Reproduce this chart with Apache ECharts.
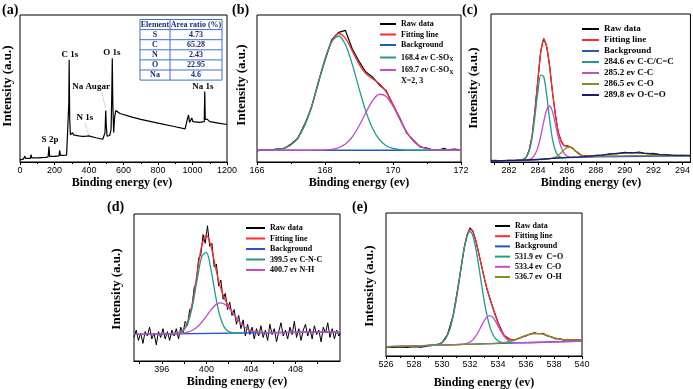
<!DOCTYPE html>
<html>
<head>
<meta charset="utf-8">
<title>XPS spectra</title>
<script src="https://cdn.jsdelivr.net/npm/echarts@6.0.0/dist/echarts.min.js"></script>
<style>
  html, body { margin: 0; padding: 0; background: #fff; }
  #chart { width: 693px; height: 389px; }
</style>
</head>
<body>
<div id="chart"></div>
<script>
// ---------- (a) survey ----------
var surveyEnergy = [0,20,28,32,40,60,64,68,100,150,163,168,172,200,226,230,234,270,280,283,285,288,292,300,305,310,340,350,355,380,398,402,405,440,480,488,493,497,500,505,512,520,528,532,535,538,543,548,555,565,580,650,700,800,900,957,965,972,977,983,990,996,1002,1040,1068,1071,1074,1080,1086,1100,1150,1200];
var surveyIntensity = [1.5,2,4,2.5,2.3,2.5,5,2.8,2.8,3.2,3.5,10.5,3.8,3.8,4.2,8,4.5,4.6,5,40,69.5,30,18.5,19,20,18.5,17.8,18.5,17.5,17.5,17.8,18.3,17.3,16.5,15.5,15.5,20,35,25,17.5,17,18,22,45,70.5,40,20,30,35,34,33,30.5,29,26.5,24,22.5,23.5,30,32,27,28.5,30,27.5,27,27.5,48,29,28,29,27.5,26.5,25.5];
var tableElements = ['S', 'C', 'N', 'O', 'Na'];
var tableRatios = [4.73, 65.28, 2.43, 22.95, 4.6];

// ---------- (b) S 2p ----------
var bRawEnergy = [166.0,166.2,166.4,166.6,166.8,167.0,167.2,167.4,167.6,167.8,168.0,168.2,168.4,168.6,168.8,169.0,169.2,169.4,169.6,169.8,170.0,170.2,170.4,170.6,170.8,171.0,171.2,171.4,171.5,171.6,171.8,172.0];
var bRaw = [7.6,8.5,8.1,8.9,9.2,12.3,16.0,25.6,36.8,54.2,69.2,83.3,88.2,89.5,77.0,68.5,61.2,57.8,52.4,48.5,38.6,29.9,19.8,14.9,10.2,9.4,8.0,8.4,9.4,8.3,8.7,8.2];
var bEnergy = [166.0,166.2,166.4,166.6,166.8,167.0,167.2,167.4,167.6,167.8,168.0,168.2,168.4,168.6,168.8,169.0,169.2,169.4,169.6,169.8,170.0,170.2,170.4,170.6,170.8,171.0,171.2,171.4,171.6,171.8,172.0];
var bFit = [8.0,8.0,8.2,8.5,9.5,11.7,16.4,24.8,37.4,53.4,69.9,82.4,87.4,84.1,75.6,66.6,60.1,56.6,53.3,47.7,39.2,29.3,20.5,14.3,10.7,9.0,8.3,8.1,8.0,8.0,8.0];
var bPeak1 = [8.01,8.04,8.15,8.5,9.45,11.7,16.4,24.8,37.4,53.4,69.7,81.8,85.7,79.9,66.6,50.1,34.6,22.8,15.2,11.1,9.2,8.4,8.12,8.03,8.0,8.0,8.0,8.0,8.0,8.0,8.0];
var bPeak2 = [8.0,8.0,8.0,8.0,8.0,8.0,8.0,8.0,8.01,8.04,8.17,8.57,9.7,12.2,17.0,24.5,33.5,41.8,46.1,44.6,38.0,28.9,20.4,14.3,10.7,9.0,8.31,8.08,8.02,8.0,8.0];
var bBgEnergy = [166, 172];
var bBg = [8, 8];

// ---------- (c) C 1s ----------
var cRawEnergy = [280.75,281.0,281.5,282.0,282.4,282.6,282.8,283.0,283.2,283.4,283.6,283.8,284.0,284.2,284.4,284.6,284.8,285.0,285.2,285.4,285.6,285.8,286.0,286.2,286.4,286.6,286.8,287.0,287.2,287.4,287.6,287.8,288.0,288.5,289.0,289.5,290.0,290.5,291.0,291.5,292.0,292.5,293.0,293.5,294.0,294.55];
var cRaw = [0.9,1.1,0.8,1.2,1.0,1.3,1.2,1.9,3.3,8.5,18.0,35.9,56.0,75.3,83.5,78.0,65.4,47.3,32.6,20.1,14.4,11.0,11.1,10.1,9.5,7.2,6.1,4.5,4.3,3.8,4.2,4.0,4.6,4.5,5.6,5.6,6.5,6.1,6.8,5.6,5.8,4.9,4.9,4.2,4.6,4.2];
var cFitEnergy = [282.4,282.6,282.8,283.0,283.2,283.4,283.6,283.8,284.0,284.2,284.4,284.6,284.8,285.0,285.2,285.4,285.6,285.8,286.0,286.2,286.4,286.6,286.8,287.0,287.2,287.4,287.6,287.8,288.0];
var cFit = [1.09,1.15,1.28,1.78,3.51,8.22,18.37,35.4,56.45,74.86,82.92,78.5,64.92,47.78,32.11,20.51,13.86,11.27,10.8,10.38,9.21,7.47,5.8,4.66,4.09,3.94,4.0,4.16,4.33];
var cBgEnergy = [280.75,283,284,285,286,288,294.55];
var cBg = [0.8,1.2,1.6,2.4,3.0,3.5,4.2];
var cPeak1Energy = [282.4,282.6,282.8,283.0,283.2,283.4,283.6,283.8,284.0,284.2,284.4,284.6,284.8,285.0,285.2,285.4,285.6,285.8,286.0];
var cPeak1 = [1.09,1.15,1.28,1.76,3.41,7.82,17.04,31.72,48.0,58.76,57.62,45.48,29.24,15.7,7.82,4.3,3.18,2.96,3.01];
var cPeak2Energy = [282.6,282.8,283.0,283.2,283.4,283.6,283.8,284.0,284.2,284.4,284.6,284.8,285.0,285.2,285.4,285.6,285.8,286.0,286.2,286.4,286.6];
var cPeak2 = [1.13,1.16,1.22,1.38,1.76,2.77,5.2,10.05,17.86,27.22,35.08,37.84,34.2,26.02,17.04,10.03,5.93,4.06,3.35,3.17,3.16];
var cPeak3Energy = [284.4,284.6,284.8,285.0,285.2,285.4,285.6,285.8,286.0,286.2,286.4,286.6,286.8,287.0,287.2,287.4,287.6,287.8,288.0,289,290,291,292,293,294.55];
var cPeak3 = [1.92,2.1,2.32,2.68,3.31,4.45,6.17,8.14,9.67,9.99,9.02,7.3,5.59,4.38,3.74,3.49,3.5,3.6,3.9,4.1,4.2,4.3,4.4,4.5,4.7];
var cPeak4Energy = [280.75,283,285,286.0,286.4,286.8,287.2,287.6,288.0,288.4,288.8,289.2,289.6,290.0,290.4,290.8,291.2,291.6,292.0,292.4,292.8,293.2,293.6,294.0,294.4,294.55];
var cPeak4 = [0.8,1.2,2.4,3.06,3.22,3.41,3.65,3.96,4.33,4.71,5.13,5.54,5.9,6.14,6.26,6.21,6.03,5.74,5.42,5.09,4.8,4.58,4.43,4.33,4.28,4.27];
var cTickLabels = [282,284,286,288,290,292,294];
var cTickMarks = [281,282,283,284,285,286,287,288,289,290,291,292,293,294];

// ---------- (d) N 1s ----------
var dRawEnergy = [393.5,393.7,393.9,394.1,394.3,394.5,394.7,394.9,395.1,395.3,395.5,395.7,395.9,396.1,396.3,396.5,396.7,396.9,397.1,397.3,397.5,397.7,397.9,398.1,398.3,398.5,398.7,398.9,399.1,399.3,399.5,399.7,399.9,400.1,400.3,400.5,400.7,400.9,401.1,401.3,401.5,401.7,401.9,402.1,402.3,402.5,402.7,402.9,403.1,403.3,403.5,403.7,403.9,404.1,404.3,404.5,404.7,404.9,405.1,405.3,405.5,405.7,405.9,406.1,406.3,406.5,406.7,406.9,407.1,407.3,407.5,407.7,407.9,408.1,408.3,408.5,408.7,408.9,409.1,409.3,409.5,409.7,409.9,410.1,410.3,410.5,410.7,410.9,411.1,411.3,411.5,411.7,411.9,412.0];
var dRaw = [16,21,14,19,12,20,17,23,15,19,11,20,16,22,15,20,14,21,17,22,15,23,19,27,24,35,36,50,53,70,72,86,80,92,78,80,64,66,51,55,42,46,35,40,31,35,25,31,22,28,17,25,18,23,15,22,17,24,16,21,14,25,18,22,13,20,26,17,21,15,23,18,27,16,22,14,21,25,17,22,15,24,18,21,13,23,19,26,16,22,15,21,17,19];
var dEnergy = [396.0,396.4,396.8,397.2,397.6,398.0,398.4,398.8,399.2,399.6,400.0,400.4,400.8,401.2,401.6,402.0,402.4,402.8,403.2,403.6,404.0,404.4,404.8,405.2,405.6,406.0];
var dFit = [18.34,18.39,18.46,18.65,19.34,21.75,28.39,41.91,61.34,79.16,85.73,78.57,64.51,51.65,42.98,37.23,32.49,28.22,24.73,22.23,20.68,19.85,19.47,19.34,19.31,19.33];
var dBgEnergy = [393.5, 412];
var dBg = [18.1, 19.9];
var dPeak1Energy = [396.0,396.4,396.8,397.2,397.6,398.0,398.4,398.8,399.2,399.6,400.0,400.4,400.8,401.2,401.6,402.0,402.4,402.8,403.2];
var dPeak1 = [18.34,18.38,18.44,18.58,19.15,21.25,27.2,39.42,56.66,71.3,73.93,62.67,45.31,30.95,23.08,20.03,19.19,19.04,19.05];
var dPeak2Energy = [393.5,396.0,396.4,396.8,397.2,397.6,398.0,398.4,398.8,399.2,399.6,400.0,400.4,400.8,401.2,401.6,402.0,402.4,402.8,403.2,403.6,404.0,404.4,404.8,405.2,405.6,406.0,412];
var dPeak2 = [18.1,18.34,18.39,18.44,18.53,18.69,19.04,19.77,21.11,23.34,26.56,30.53,34.67,38.01,39.55,38.79,36.13,32.27,28.19,24.73,22.23,20.68,19.85,19.47,19.34,19.31,19.33,19.9];
var dTickLabels = [396,400,404,408];
var dTickMarks = [394,396,398,400,402,404,406,408,410];

// ---------- (e) O 1s ----------
var eRawEnergy = [526.0,526.5,527.0,527.5,528.0,528.5,529.0,529.6,530.0,530.4,530.8,531.2,531.6,531.8,532.0,532.2,532.4,532.8,533.2,533.6,534.0,534.4,534.8,535.2,535.6,536.0,536.3,536.6,536.9,537.2,537.5,537.8,538.1,538.4,538.7,539.0,539.3,539.6,540.0];
var eRaw = [6.3,6.0,6.4,5.9,6.5,6.2,7.0,7.6,9.2,15.2,28.6,51.6,76.4,85.0,89.6,87.5,81.0,64.3,47.2,34.8,23.4,14.8,11.9,11.2,12.9,14.0,15.3,16.3,15.6,15.9,14.1,13.5,12.0,12.2,11.0,11.6,10.8,11.4,10.9];
var eFitEnergy = [529.0,529.6,529.8,530.0,530.2,530.4,530.6,530.8,531.0,531.2,531.4,531.6,531.8,532.0,532.2,532.4,532.6,532.8,533.0,533.2,533.4,533.6,533.8,534.0,534.2,534.4,534.6,534.8,535.0,535.2,535.4,535.6,536.0,536.5,537.0,537.5,538.0,538.5,539.0,539.5,540.0];
var eFit = [7.36,7.88,8.43,9.48,11.46,14.88,20.31,28.27,38.74,51.23,64.25,76.09,84.66,88.44,87.08,81.37,73.02,63.94,55.21,47.57,40.73,34.44,28.48,23.09,18.49,15.04,12.8,11.63,11.27,11.47,12.01,12.72,14.36,15.68,15.66,14.36,12.64,11.67,11.31,11.26,11.3];
var eBgEnergy = [526, 540];
var eBg = [6.5, 10.5];
var ePeak1Energy = [529.0,529.6,529.8,530.0,530.2,530.4,530.6,530.8,531.0,531.2,531.4,531.6,531.8,532.0,532.2,532.4,532.6,532.8,533.0,533.2,533.4,533.6,533.8,534.0,534.2,534.4,534.6,534.8,535.0];
var ePeak1 = [7.36,7.88,8.43,9.48,11.46,14.88,20.31,28.27,38.73,51.19,64.14,75.8,83.96,86.91,84.07,76.03,64.49,51.64,39.3,28.96,21.11,15.79,12.49,10.63,9.68,9.25,9.1,9.06,9.09];
var ePeak2Energy = [526,531.0,531.2,531.4,531.6,531.8,532.0,532.2,532.4,532.6,532.8,533.0,533.2,533.4,533.6,533.8,534.0,534.2,534.4,534.6,534.8,535.0,535.2,535.4,535.6,540];
var ePeak2 = [6.5,7.94,8.03,8.15,8.39,8.86,9.74,11.28,13.67,16.92,20.74,24.4,27.16,28.21,27.27,24.63,21.09,17.37,14.24,11.97,10.54,9.77,9.42,9.3,9.28,10.5];
var ePeak3Energy = [526,526.5,527,527.5,528,528.5,529,529.5,530,530.5,531,531.5,532,532.5,533,533.5,534,534.5,535,535.5,536,536.5,537,537.5,538,538.5,539,539.5,540];
var ePeak3 = [6.5,6.64,6.79,6.93,7.07,7.21,7.36,7.5,7.64,7.79,7.93,8.07,8.21,8.36,8.51,8.68,8.95,9.49,10.55,12.28,14.36,15.68,15.66,14.36,12.64,11.67,11.31,11.26,11.3];

// ---------- styling ----------
var SERIF = '"Liberation Serif", "Times New Roman", serif';
var SANS = '"Liberation Sans", Arial, sans-serif';
var C_RAW = '#000000', C_FIT = '#ff2b2b', C_BG = '#2456cc',
    C_P1 = '#1f9a8c', C_P2 = '#c04ec6', C_P3 = '#8a8a26', C_P4 = '#1c1c6e';

function zip(xs, ys) {
  return xs.map(function (x, i) { return [x, ys[i]]; });
}

function line(name, idx, xs, ys, color, smooth, width) {
  return {
    name: name, type: 'line', xAxisIndex: idx, yAxisIndex: idx,
    data: zip(xs, ys), smooth: smooth ? 0.3 : false,
    symbol: 'none', showSymbol: false, color: color,
    lineStyle: { color: color, width: width || 1.3 },
    itemStyle: { color: color },
    silent: true, animation: false
  };
}

function grid(left, top, width, height) {
  return { left: left, top: top, width: width, height: height, show: true,
    borderColor: '#000', borderWidth: 1, containLabel: false };
}

function xAxis(idx, min, max, interval, labels, ticks) {
  var ax = {
    type: 'value', gridIndex: idx, min: min, max: max,
    axisLine: { show: true, onZero: false, lineStyle: { color: '#000', width: 1 } },
    axisTick: { show: true, length: 3, lineStyle: { color: '#000', width: 1 } },
    minorTick: { show: true, splitNumber: 2, length: 2, lineStyle: { color: '#000', width: 1 } },
    axisLabel: { color: '#000', fontFamily: SANS, fontSize: 9, margin: 4,
      formatter: function (v) { return String(v); } },
    splitLine: { show: false }
  };
  if (interval) ax.interval = interval;
  if (labels) {
    ax.axisLabel.customValues = labels;
    ax.axisTick.customValues = ticks;
    ax.minorTick.show = false;
  }
  return ax;
}

function yAxis(idx) {
  return { type: 'value', gridIndex: idx, min: 0, max: 100, show: false };
}

function legend(left, top, names, itemWidth, fontSize, lineHeight, gap, extra) {
  var lg = {
    left: left, top: top, orient: 'vertical', icon: 'rect',
    itemWidth: itemWidth, itemHeight: 2, itemGap: gap, padding: 0,
    selectedMode: false, data: names,
    textStyle: { fontFamily: SERIF, fontWeight: 'bold', fontSize: fontSize,
      color: '#000', lineHeight: lineHeight }
  };
  if (extra) {
    lg.formatter = extra.formatter;
    lg.textStyle.rich = extra.rich;
  }
  return lg;
}

function text(x, y, str, size, align, vAlign, extra) {
  var el = {
    type: 'text', x: x, y: y, silent: true,
    style: { text: str, font: 'bold ' + size + 'px ' + SERIF, fill: '#000',
      align: align || 'center', verticalAlign: vAlign || 'middle' }
  };
  if (extra) for (var k in extra) el[k] = extra[k];
  return el;
}

var graphics = [];
// panel letters
graphics.push(text(2, 3, '(a)', 14, 'left', 'top'));
graphics.push(text(232, 3, '(b)', 14, 'left', 'top'));
graphics.push(text(462, 3, '(c)', 14, 'left', 'top'));
graphics.push(text(107, 200, '(d)', 14, 'left', 'top'));
graphics.push(text(352, 200, '(e)', 14, 'left', 'top'));
// axis titles
var yTitles = [[8, 86], [242, 85], [474, 88], [117, 289], [370, 286]];
yTitles.forEach(function (p) {
  graphics.push(text(p[0], p[1], 'Intensity (a.u.)', 13, 'center', 'middle', { rotation: Math.PI / 2 }));
});
var xTitles = [[122, 183], [359, 183], [591, 183], [237, 382], [484, 383]];
xTitles.forEach(function (p) {
  graphics.push(text(p[0], p[1], 'Binding energy (ev)', 12));
});
// survey peak labels
graphics.push(text(50, 140, 'S 2p', 9));
graphics.push(text(70, 55, 'C 1s', 9));
graphics.push(text(85, 118, 'N 1s', 9));
graphics.push(text(91, 87, 'Na Augar', 9));
graphics.push(text(112, 53, 'O 1s', 9));
graphics.push(text(203, 87, 'Na 1s', 9));
graphics.push({ type: 'line', silent: true, shape: { x1: 102, y1: 93, x2: 105.5, y2: 108 },
  style: { stroke: '#999', lineWidth: 0.8, lineDash: [1, 1] } });
graphics.push({ type: 'line', silent: true, shape: { x1: 85, y1: 123, x2: 89, y2: 136 },
  style: { stroke: '#999', lineWidth: 0.8, lineDash: [1, 1] } });
// element table
var TBL_L = 140, TBL_R = 222, TBL_MID = 170, TBL_T = 19.5, ROW_H = 10.1;
var TBL_BORDER = '#3f6fd2', TBL_TEXT = '#1c2c72';
graphics.push({ type: 'rect', silent: true,
  shape: { x: TBL_L, y: TBL_T, width: TBL_R - TBL_L, height: ROW_H * 6 },
  style: { fill: '#fff', stroke: TBL_BORDER, lineWidth: 1 } });
for (var r = 1; r < 6; r++) {
  graphics.push({ type: 'line', silent: true,
    shape: { x1: TBL_L, y1: TBL_T + r * ROW_H, x2: TBL_R, y2: TBL_T + r * ROW_H },
    style: { stroke: TBL_BORDER, lineWidth: 1 } });
}
graphics.push({ type: 'line', silent: true,
  shape: { x1: TBL_MID, y1: TBL_T, x2: TBL_MID, y2: TBL_T + ROW_H * 6 },
  style: { stroke: TBL_BORDER, lineWidth: 1 } });
function cell(x, row, str) {
  var t = text(x, TBL_T + ROW_H * row + ROW_H / 2, str, 8);
  t.style.fill = TBL_TEXT;
  return t;
}
graphics.push(cell((TBL_L + TBL_MID) / 2, 0, 'Element'));
graphics.push(cell((TBL_MID + TBL_R) / 2, 0, 'Area ratio (%)'));
tableElements.forEach(function (el, i) {
  graphics.push(cell((TBL_L + TBL_MID) / 2, i + 1, el));
  graphics.push(cell((TBL_MID + TBL_R) / 2, i + 1, String(tableRatios[i])));
});
// note in (b)
graphics.push(text(401, 81, 'X=2, 3', 8, 'left', 'middle'));

var bNames = ['Raw data', 'Fitting line', 'Background', '168.4 ev C-SOX', '169.7 ev C-SOX'];
var cNames = ['Raw data', 'Fitting line', 'Background', '284.6 ev C-C/C=C', '285.2 ev C-C', '286.5 ev C-O', '289.8 ev O-C=O'];
var dNames = ['Raw data', 'Fitting line', 'Background', '399.5 ev C-N-C', '400.7 ev N-H'];
var eNames = ['Raw data', 'Fitting line', 'Background', '531.9 ev  C=O', '533.4 ev  C-O', '536.7 ev  O-H'];

var option = {
  backgroundColor: '#fff',
  animation: false,
  grid: [
    grid(20, 15, 207, 147),
    grid(257, 15, 204, 147),
    grid(491, 14, 201, 148),
    grid(134, 214, 206, 147),
    grid(386, 213, 196, 143)
  ],
  xAxis: [
    xAxis(0, 0, 1200, 200),
    xAxis(1, 166, 172, 2),
    xAxis(2, 280.75, 294.55, null, cTickLabels, cTickMarks),
    xAxis(3, 393.5, 412, null, dTickLabels, dTickMarks),
    xAxis(4, 526, 540, 2)
  ],
  yAxis: [yAxis(0), yAxis(1), yAxis(2), yAxis(3), yAxis(4)],
  legend: [
    legend(380, 19, bNames, 16, 8, 10, 0.5, {
      formatter: function (n) {
        var m = n.match(/^(\S+) ev C-SOX$/);
        return m ? m[1] + ' {i|ev} C-SO{s|X}' : n;
      },
      rich: {
        i: { fontFamily: SERIF, fontWeight: 'bold', fontStyle: 'italic', fontSize: 8, color: '#000' },
        s: { fontFamily: SERIF, fontWeight: 'bold', fontSize: 6, color: '#000', lineHeight: 7,
             padding: [6, 0, 0, 0], verticalAlign: 'bottom' }
      }
    }),
    legend(582, 23.5, cNames, 17, 9, 11, 0),
    legend(246, 223, dNames, 19, 8, 10, 0.5),
    legend(495, 221, eNames, 15, 8, 10, 0.2)
  ],
  graphic: graphics,
  series: [
    line('Survey', 0, surveyEnergy, surveyIntensity, C_RAW, false, 1.2),

    line('Raw data', 1, bRawEnergy, bRaw, C_RAW, false, 1.2),
    line('Fitting line', 1, bEnergy, bFit, C_FIT, true),
    line('Background', 1, bBgEnergy, bBg, C_BG, false),
    line('168.4 ev C-SOX', 1, bEnergy, bPeak1, C_P1, true),
    line('169.7 ev C-SOX', 1, bEnergy, bPeak2, C_P2, true),

    line('Raw data', 2, cRawEnergy, cRaw, C_RAW, false, 1.1),
    line('Fitting line', 2, cFitEnergy, cFit, C_FIT, true),
    line('Background', 2, cBgEnergy, cBg, C_BG, false),
    line('284.6 ev C-C/C=C', 2, cPeak1Energy, cPeak1, C_P1, true),
    line('285.2 ev C-C', 2, cPeak2Energy, cPeak2, C_P2, true),
    line('286.5 ev C-O', 2, cPeak3Energy, cPeak3, C_P3, true),
    line('289.8 ev O-C=O', 2, cPeak4Energy, cPeak4, C_P4, true),

    line('Raw data', 3, dRawEnergy, dRaw, C_RAW, false, 1.0),
    line('Fitting line', 3, dEnergy, dFit, C_FIT, true),
    line('Background', 3, dBgEnergy, dBg, C_BG, false),
    line('399.5 ev C-N-C', 3, dPeak1Energy, dPeak1, C_P1, true),
    line('400.7 ev N-H', 3, dPeak2Energy, dPeak2, C_P2, true),

    line('Raw data', 4, eRawEnergy, eRaw, C_RAW, false, 1.1),
    line('Fitting line', 4, eFitEnergy, eFit, C_FIT, true),
    line('Background', 4, eBgEnergy, eBg, C_BG, false),
    line('531.9 ev  C=O', 4, ePeak1Energy, ePeak1, C_P1, true),
    line('533.4 ev  C-O', 4, ePeak2Energy, ePeak2, C_P2, true),
    line('536.7 ev  O-H', 4, ePeak3Energy, ePeak3, C_P3, true)
  ]
};

var chart = echarts.init(document.getElementById('chart'));
chart.setOption(option);
</script>
</body>
</html>
